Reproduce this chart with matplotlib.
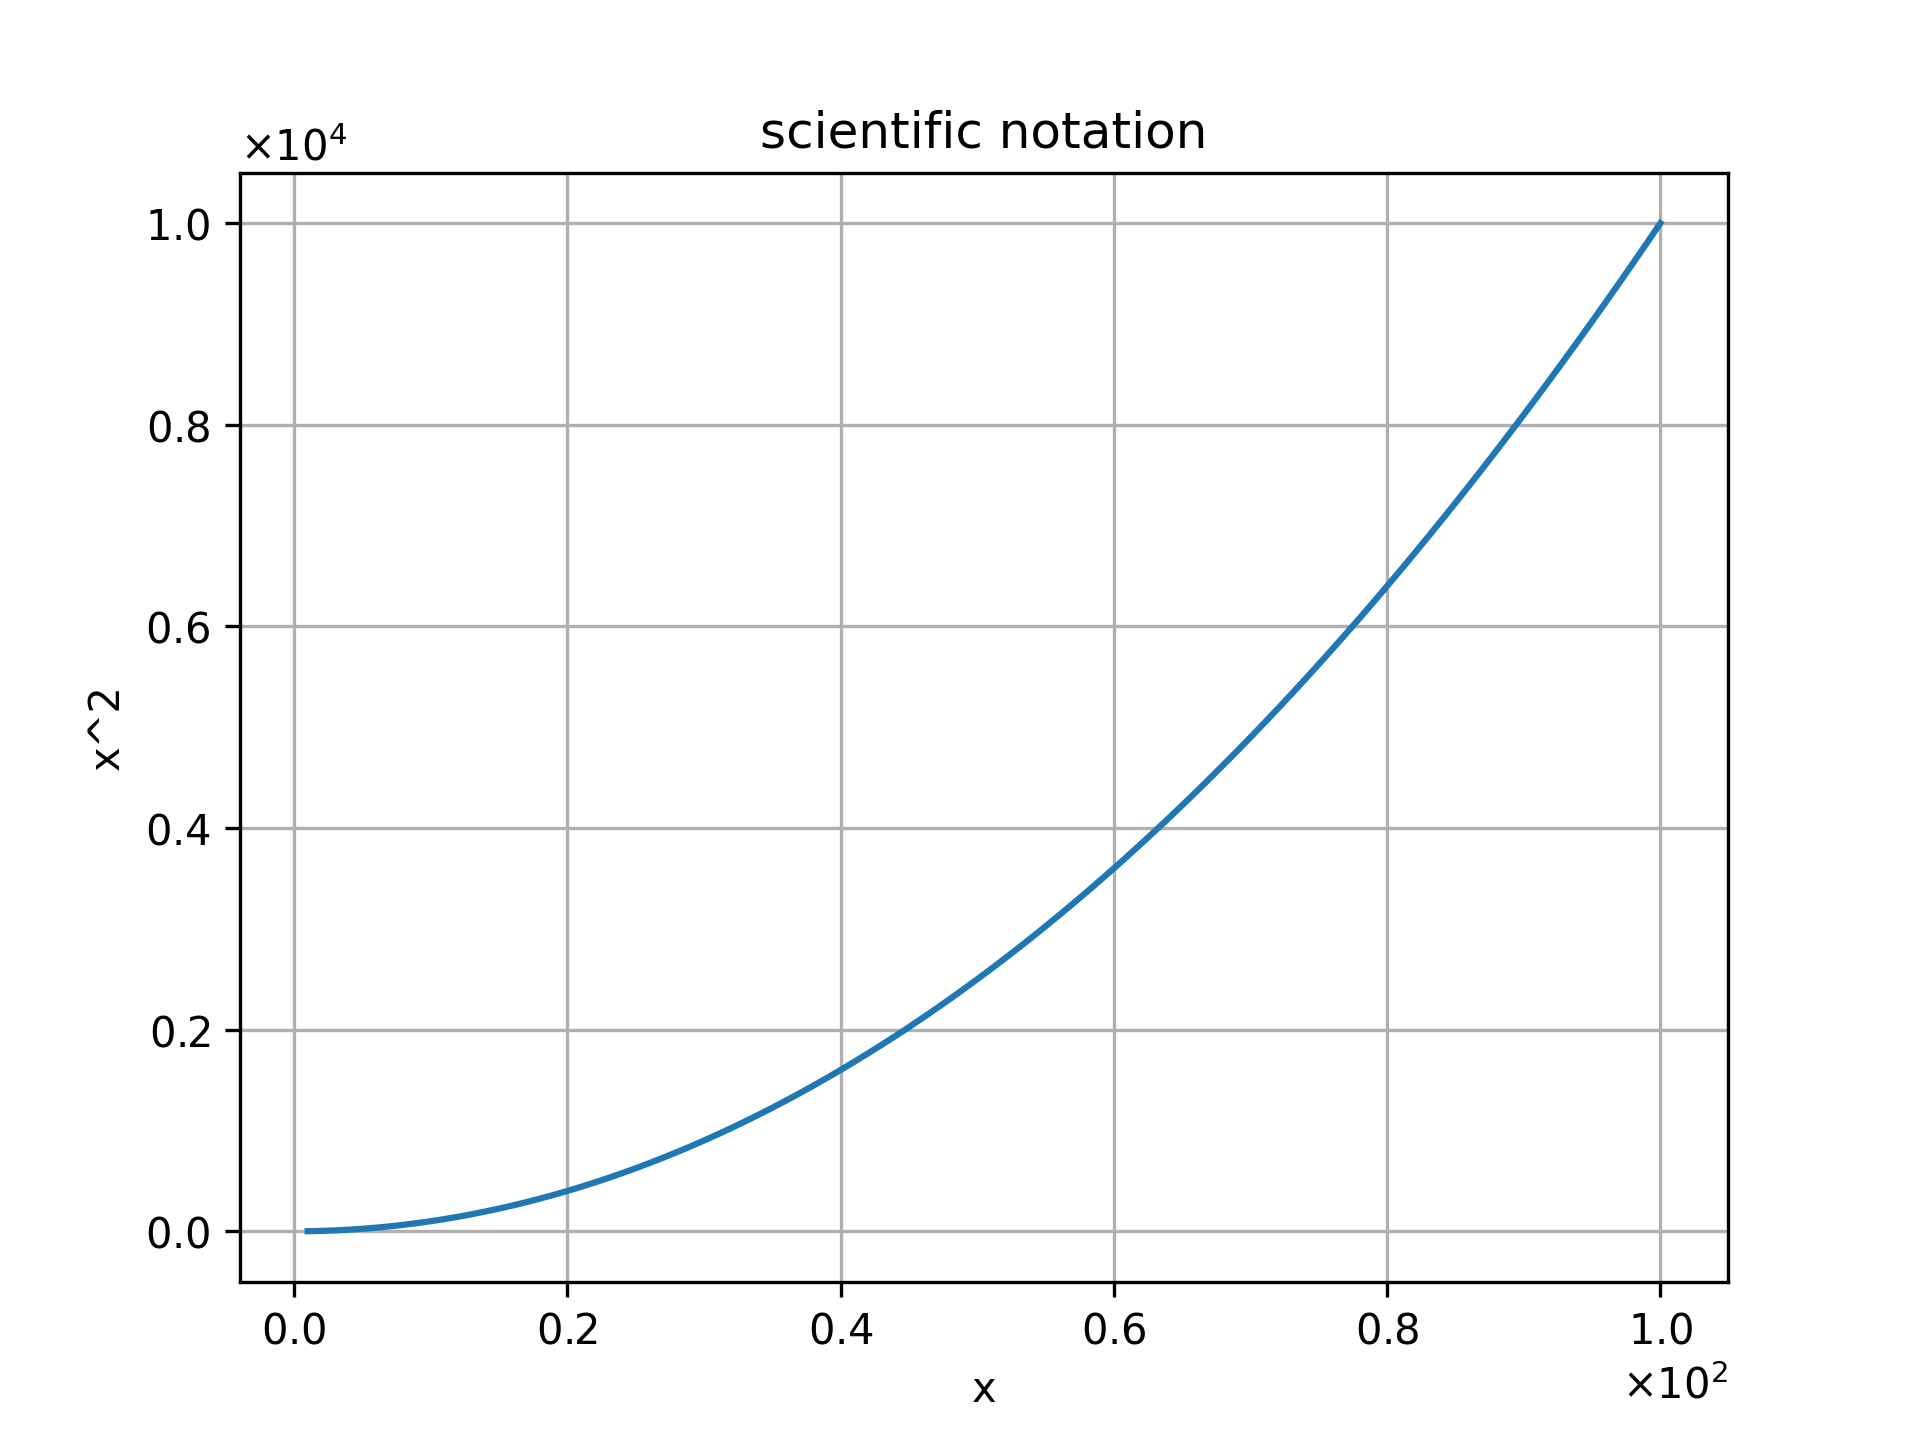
import matplotlib
matplotlib.use('Agg')
import matplotlib.pyplot as plt

x_vals = [1, 2, 3, 4, 5, 6, 7, 8, 9, 10, 11, 12, 13, 14, 15, 16, 17, 18, 19, 20,
          21, 22, 23, 24, 25, 26, 27, 28, 29, 30, 31, 32, 33, 34, 35, 36, 37, 38, 39, 40,
          41, 42, 43, 44, 45, 46, 47, 48, 49, 50, 51, 52, 53, 54, 55, 56, 57, 58, 59, 60,
          61, 62, 63, 64, 65, 66, 67, 68, 69, 70, 71, 72, 73, 74, 75, 76, 77, 78, 79, 80,
          81, 82, 83, 84, 85, 86, 87, 88, 89, 90, 91, 92, 93, 94, 95, 96, 97, 98, 99, 100]
y_vals = [1, 4, 9, 16, 25, 36, 49, 64, 81, 100,
          121, 144, 169, 196, 225, 256, 289, 324, 361, 400,
          441, 484, 529, 576, 625, 676, 729, 784, 841, 900,
          961, 1024, 1089, 1156, 1225, 1296, 1369, 1444, 1521, 1600,
          1681, 1764, 1849, 1936, 2025, 2116, 2209, 2304, 2401, 2500,
          2601, 2704, 2809, 2916, 3025, 3136, 3249, 3364, 3481, 3600,
          3721, 3844, 3969, 4096, 4225, 4356, 4489, 4624, 4761, 4900,
          5041, 5184, 5329, 5476, 5625, 5776, 5929, 6084, 6241, 6400,
          6561, 6724, 6889, 7056, 7225, 7396, 7569, 7744, 7921, 8100,
          8281, 8464, 8649, 8836, 9025, 9216, 9409, 9604, 9801, 10000]

fig, ax = plt.subplots(figsize=(6.4, 4.8))
ax.plot(x_vals, y_vals)
ax.set_title('scientific notation')
ax.set_xlabel('x')
ax.set_ylabel('x^2')
ax.ticklabel_format(style='sci', scilimits=(0, 0), useMathText=True)
ax.grid(True)
plt.savefig('out.png', dpi=300)
plt.close()
